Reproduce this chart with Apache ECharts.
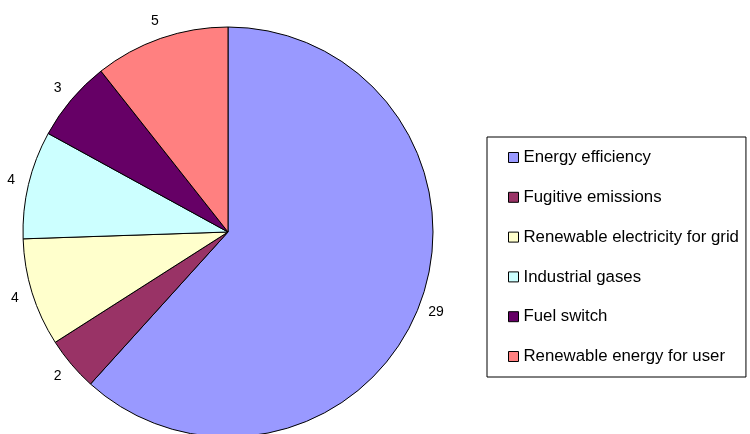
<!DOCTYPE html>
<html>
<head>
<meta charset="utf-8">
<script src="https://cdn.jsdelivr.net/npm/echarts@6/dist/echarts.min.js"></script>
<style>
  html, body { margin: 0; padding: 0; background: #fff; }
  #chart { width: 750px; height: 434px; }
</style>
</head>
<body>
<div id="chart"></div>
<script>
// Emission reduction categories and their counts
const categories = [
  'Energy efficiency',
  'Fugitive emissions',
  'Renewable electricity for grid',
  'Industrial gases',
  'Fuel switch',
  'Renewable energy for user'
];
const counts = [29, 2, 4, 4, 3, 5];
const colors = ['#9999FF', '#993366', '#FFFFCC', '#CCFFFF', '#660066', '#FF8080'];

const font = '"Liberation Sans", Arial, sans-serif';
const pieData = categories.map((name, i) => ({ name: name, value: counts[i] }));

const chart = echarts.init(document.getElementById('chart'), null, { renderer: 'canvas' });

chart.setOption({
  animation: false,
  backgroundColor: '#ffffff',
  color: colors,
  legend: {
    orient: 'vertical',
    left: 487,
    top: 137,
    padding: [12, 7, 12, 21],
    borderColor: '#000000',
    borderWidth: 1,
    itemWidth: 10,
    itemHeight: 10,
    itemGap: 22.8,
    icon: 'rect',
    itemStyle: { borderColor: '#000000', borderWidth: 1 },
    textStyle: { fontFamily: font, fontSize: 16.8, color: '#000000', lineHeight: 16 },
    data: categories
  },
  series: [{
    // the pie itself
    type: 'pie',
    center: [228, 232],
    radius: 205,
    startAngle: 90,
    clockwise: true,
    itemStyle: { borderColor: '#000000', borderWidth: 1 },
    label: { show: false },
    labelLine: { show: false },
    emphasis: { disabled: true },
    data: pieData
  }, {
    // invisible ring just outside the pie, carrying centred value labels
    type: 'pie',
    center: [228, 232],
    radius: [213, 227],
    startAngle: 90,
    clockwise: true,
    silent: true,
    itemStyle: { color: 'rgba(0,0,0,0)', borderWidth: 0 },
    label: {
      show: true,
      position: 'inside',
      formatter: '{c}',
      fontFamily: font,
      fontSize: 14,
      color: '#000000'
    },
    labelLine: { show: false },
    emphasis: { disabled: true },
    data: pieData
  }]
});
</script>
</body>
</html>
